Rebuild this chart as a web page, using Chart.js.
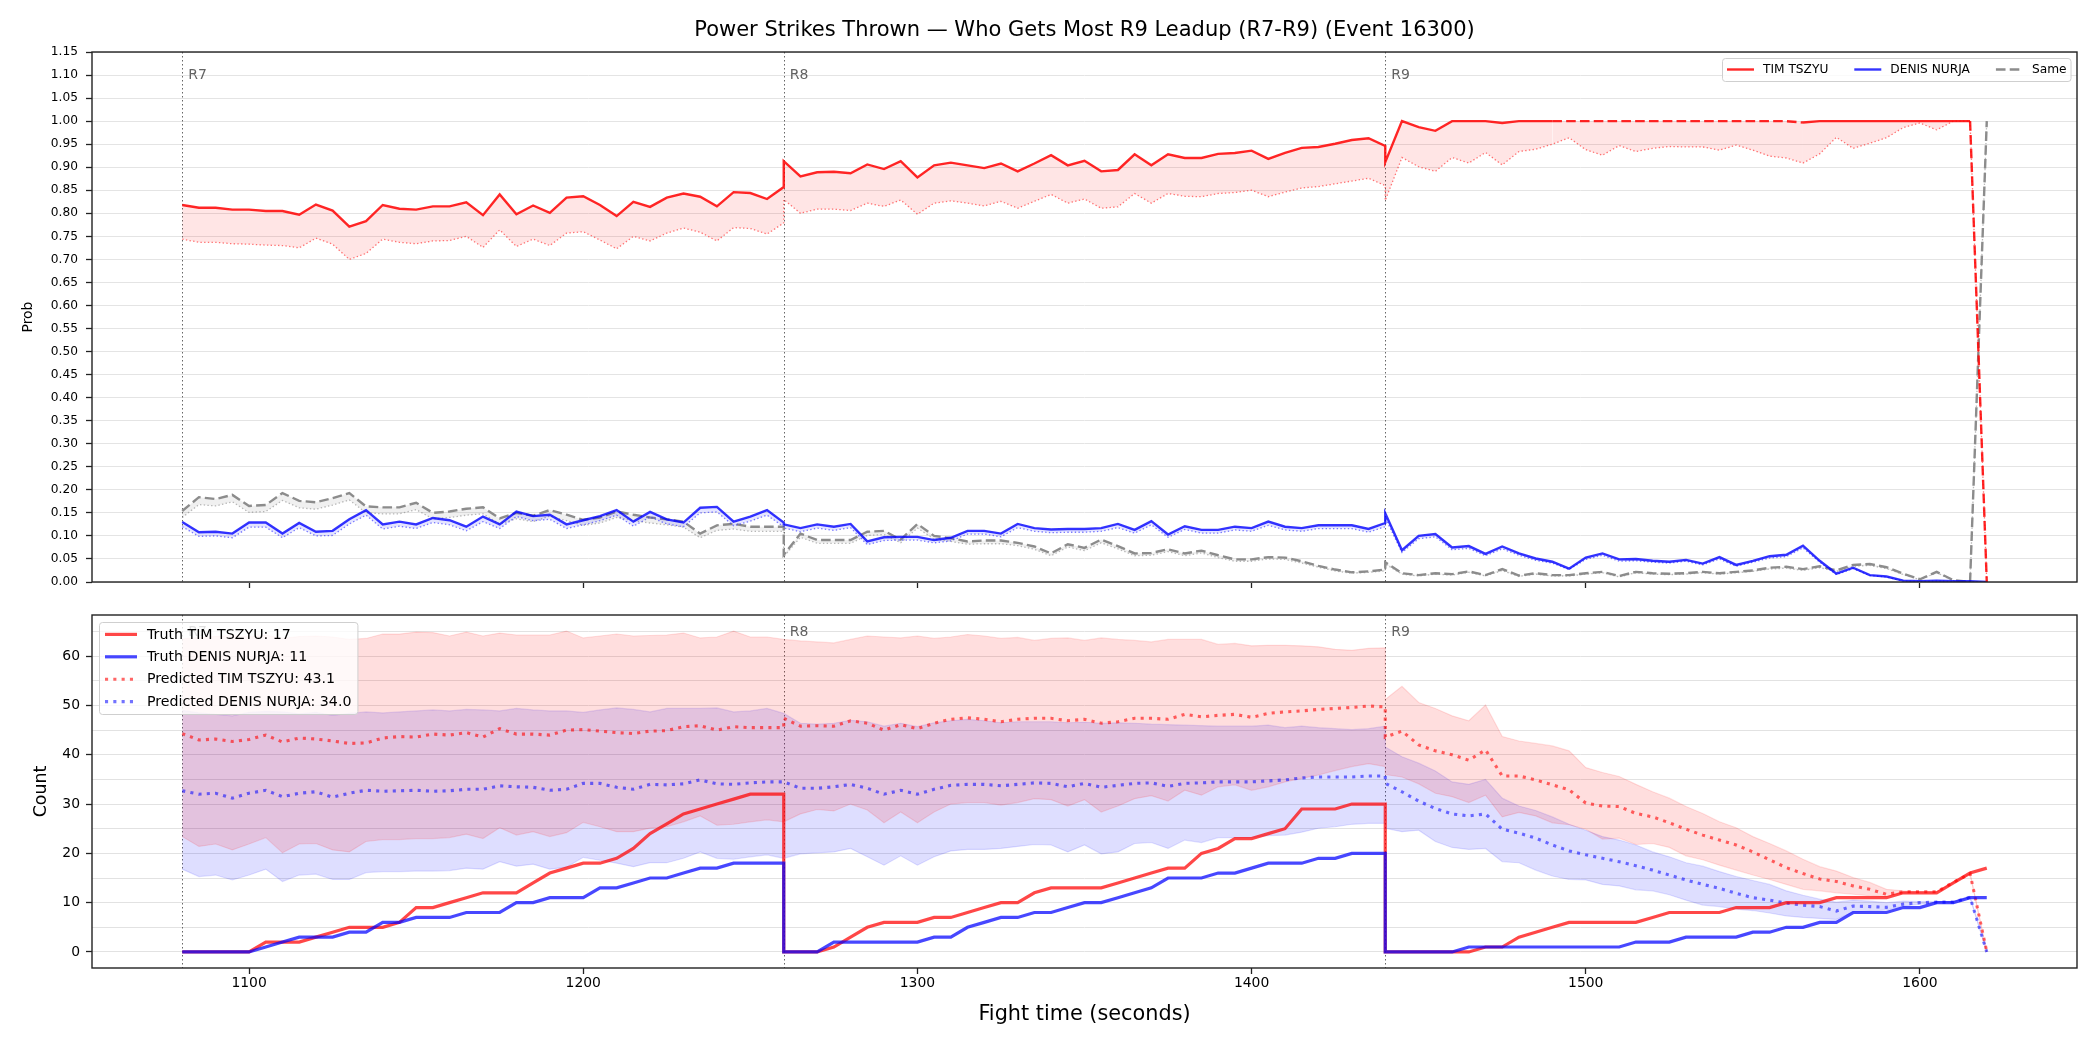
<!DOCTYPE html>
<html>
<head>
<meta charset="utf-8">
<title>Power Strikes Thrown</title>
<script src="https://cdn.jsdelivr.net/npm/chart.js@4.4.1/dist/chart.umd.min.js"></script>
<style>
  html, body { margin: 0; padding: 0; background: #fff; }
  #wrap { position: relative; width: 2100px; height: 1050px; }
  #probChart { position: absolute; left: 0; top: 0; }
  #countChart { position: absolute; left: 0; top: 600px; }
</style>
</head>
<body>
<div id="wrap">
  <canvas id="probChart" width="2100" height="600"></canvas>
  <canvas id="countChart" width="2100" height="450"></canvas>
</div>
<script>
/**************************************************
 DATA (5 s samples, R7 / R8 / R9, boundaries repeated)
**************************************************/
const times = [
  1080,1085,1090,1095,1100,1105,1110,1115,1120,1125,1130,1135,1140,1145,1150,1155,1160,1165,1170,1175,1180,1185,1190,1195,1200,1205,1210,1215,1220,1225,1230,1235,1240,1245,1250,1255,1260,
  1260,1265,1270,1275,1280,1285,1290,1295,1300,1305,1310,1315,1320,1325,1330,1335,1340,1345,1350,1355,1360,1365,1370,1375,1380,1385,1390,1395,1400,1405,1410,1415,1420,1425,1430,1435,1440,
  1440,1445,1450,1455,1460,1465,1470,1475,1480,1485,1490,1495,1500,1505,1510,1515,1520,1525,1530,1535,1540,1545,1550,1555,1560,1565,1570,1575,1580,1585,1590,1595,1600,1605,1610,1615,1620
];

const rounds = [ { t: 1080, label: "R7" }, { t: 1260, label: "R8" }, { t: 1440, label: "R9" } ];
const xTicks = [1100, 1200, 1300, 1400, 1500, 1600];
const probTicks = [0,0.05,0.1,0.15,0.2,0.25,0.3,0.35,0.4,0.45,0.5,0.55,0.6,0.65,0.7,0.75,0.8,0.85,0.9,0.95,1,1.05,1.1,1.15];
const countTicks = [0,5,10,15,20,25,30,35,40,45,50,55,60,65];

// --- top: probabilities ---
const probTim = [
  .818,.812,.812,.808,.808,.805,.805,.797,.819,.806,.771,.783,.818,.810,.808,.815,.815,.824,.796,.841,.798,.817,.801,.834,.837,.818,.794,.825,.814,.834,.843,.836,.815,.846,.844,.831,.857,
  .913,.880,.889,.890,.887,.906,.896,.913,.878,.904,.910,.904,.898,.908,.891,.908,.926,.904,.914,.891,.894,.928,.904,.928,.920,.920,.929,.931,.936,.918,.931,.942,.944,.951,.959,.963,.946,
  .911,1,.987,.979,1,1,1,.996,1,1,1,1,1,1,1,1,1,1,1,1,1,1,1,1,1,.997,1,1,1,1,1,1,1,1,1,1,0
];
const probTimLo = [
  .744,.737,.737,.734,.733,.731,.730,.725,.746,.733,.700,.713,.744,.737,.734,.740,.741,.750,.726,.764,.728,.744,.730,.757,.760,.742,.723,.750,.740,.757,.768,.759,.740,.769,.767,.755,.779,
  .830,.800,.809,.809,.806,.822,.815,.829,.798,.822,.827,.822,.816,.826,.811,.826,.841,.822,.831,.811,.814,.843,.822,.843,.837,.836,.843,.845,.850,.836,.846,.855,.858,.864,.870,.876,.860,
  .828,.921,.901,.891,.921,.909,.932,.905,.934,.939,.950,.964,.938,.926,.947,.934,.941,.945,.944,.944,.937,.948,.937,.924,.920,.909,.929,.965,.941,.952,.964,.986,.996,.981,1,1,0
];
const probDen = [
  .130,.108,.109,.105,.129,.129,.105,.128,.109,.111,.136,.156,.125,.131,.125,.139,.134,.120,.142,.125,.153,.143,.146,.125,.134,.143,.156,.131,.152,.136,.129,.161,.163,.131,.142,.156,.129,
  .125,.117,.125,.120,.126,.088,.097,.098,.098,.091,.096,.111,.111,.105,.126,.117,.114,.115,.115,.117,.126,.113,.132,.103,.121,.113,.113,.120,.117,.131,.120,.117,.123,.123,.123,.115,.128,
  .149,.069,.100,.104,.075,.078,.061,.077,.062,.051,.044,.029,.053,.062,.049,.050,.046,.044,.048,.040,.054,.037,.046,.056,.059,.079,.046,.018,.031,.015,.012,.003,.002,.003,.002,.002,0
];
const probDenLo = [
  .120,.099,.100,.096,.119,.119,.096,.118,.100,.101,.126,.145,.115,.121,.116,.129,.124,.111,.131,.116,.142,.133,.136,.116,.124,.133,.145,.121,.141,.126,.120,.150,.152,.122,.132,.145,.120,
  .117,.109,.117,.112,.118,.081,.090,.091,.091,.085,.089,.104,.104,.098,.118,.110,.107,.108,.108,.110,.118,.106,.124,.097,.114,.106,.106,.113,.110,.123,.113,.110,.116,.116,.116,.108,.120,
  .139,.064,.094,.098,.070,.073,.057,.072,.058,.047,.041,.027,.049,.058,.045,.046,.043,.041,.045,.037,.050,.034,.043,.052,.055,.074,.043,.016,.029,.014,.011,.002,.001,.002,.001,.001,0
];
const probSame = [
  .154,.184,.180,.189,.165,.167,.193,.176,.173,.182,.193,.164,.162,.162,.172,.150,.153,.159,.162,.138,.150,.144,.156,.146,.135,.140,.153,.146,.140,.136,.131,.105,.123,.126,.120,.120,.120,
  .059,.105,.091,.091,.091,.109,.111,.092,.126,.100,.095,.088,.090,.090,.085,.077,.062,.082,.074,.092,.078,.062,.063,.071,.062,.068,.058,.049,.049,.054,.053,.045,.035,.027,.021,.023,.027,
  .043,.019,.015,.019,.017,.023,.015,.028,.014,.019,.015,.015,.019,.022,.013,.022,.019,.018,.019,.022,.019,.022,.025,.031,.033,.028,.034,.025,.037,.039,.032,.018,.006,.022,.004,0,1
];
const probSameLo = [
  .140,.168,.165,.174,.151,.153,.177,.161,.158,.167,.178,.150,.148,.148,.157,.137,.140,.145,.148,.126,.137,.131,.143,.133,.123,.128,.140,.133,.128,.124,.119,.096,.112,.115,.110,.110,.110,
  .055,.097,.084,.084,.084,.101,.103,.085,.117,.093,.088,.082,.083,.083,.079,.071,.057,.076,.068,.085,.072,.057,.058,.066,.057,.063,.053,.045,.045,.050,.049,.041,.032,.024,.019,.021,.024,
  .039,.017,.013,.017,.015,.021,.013,.025,.012,.017,.013,.013,.017,.020,.011,.020,.017,.016,.017,.020,.017,.020,.023,.028,.030,.025,.031,.023,.034,.036,.029,.016,.005,.020,.003,0,1
];

// --- bottom: counts ---
const truthTim = [
  0,0,0,0,0,2,2,2,3,4,5,5,5,6,9,9,10,11,12,12,12,14,16,17,18,18,19,21,24,26,28,29,30,31,32,32,32,
  0,0,0,1,3,5,6,6,6,7,7,8,9,10,10,12,13,13,13,13,14,15,16,17,17,20,21,23,23,24,25,29,29,29,30,30,30,
  0,0,0,0,0,0,1,1,3,4,5,6,6,6,6,6,7,8,8,8,8,9,9,9,10,10,10,11,11,11,11,12,12,12,14,16,17
];
const truthDen = [
  0,0,0,0,0,1,2,3,3,3,4,4,6,6,7,7,7,8,8,8,10,10,11,11,11,13,13,14,15,15,16,17,17,18,18,18,18,
  0,0,0,2,2,2,2,2,2,3,3,5,6,7,7,8,8,9,10,10,11,12,13,15,15,15,16,16,17,18,18,18,19,19,20,20,20,
  0,0,0,0,0,1,1,1,1,1,1,1,1,1,1,2,2,2,3,3,3,3,4,4,5,5,6,6,8,8,8,9,9,10,10,11,11
];
const predTim = [
  44.3,43.0,43.2,42.7,43.1,44.0,42.6,43.4,43.2,42.8,42.3,42.4,43.4,43.7,43.6,44.2,44.0,44.5,43.6,45.3,44.2,44.2,44.0,45.0,45.1,44.8,44.5,44.3,44.8,44.9,45.7,45.9,45.0,45.7,45.5,45.5,45.5,
  47.4,45.8,45.9,45.8,46.9,46.4,45.0,46.1,45.3,46.4,47.2,47.5,47.2,46.7,47.2,47.4,47.4,46.9,47.2,46.4,46.7,47.4,47.4,47.2,48.2,47.7,48.0,48.2,47.6,48.4,48.7,48.9,49.2,49.4,49.6,49.9,49.7,
  43.6,44.8,42.0,40.8,40.0,38.9,41.0,35.7,35.7,34.9,33.9,32.9,30.2,29.6,29.5,28.1,27.4,26.2,24.9,23.7,22.7,21.7,20.3,18.7,17.1,15.9,14.8,14.3,13.4,12.7,11.7,12.2,12.2,12.2,14.1,15.9,0
];
const predDen = [
  32.7,32.0,32.2,31.2,32.2,32.8,31.5,32.2,32.5,31.4,32.2,32.8,32.6,32.7,32.8,32.6,32.7,33.0,33.0,33.7,33.5,33.4,32.8,33.0,34.2,34.2,33.4,33.0,34.0,33.9,34.1,34.9,34.1,34.0,34.3,34.5,34.5,
  34.5,33.2,33.2,33.5,34.0,33.2,32.0,32.8,32.0,33.0,33.8,34.0,34.0,33.7,34.0,34.3,34.2,33.5,34.2,33.4,33.8,34.2,34.3,33.6,34.2,34.3,34.5,34.5,34.5,34.7,34.9,35.3,35.5,35.5,35.5,35.7,35.7,
  34.2,32.5,30.6,29.1,28.0,27.6,28.0,24.9,24.1,23.1,21.7,20.5,19.7,19.0,18.3,17.5,16.6,15.6,14.6,13.7,12.9,11.9,11.0,10.5,9.9,9.5,9.2,8.3,9.3,9.2,9.05,9.7,10.0,10.1,10.1,11.1,0
];
const predTimHi = [
  63.5,63.8,64.0,64.2,63.9,64.3,63.6,64.0,64.1,63.9,63.4,63.6,64.5,64.5,64.9,64.8,64.1,64.9,64.1,64.7,64.3,64.3,64.3,65.1,63.7,64.1,64.5,64.1,64.2,64.3,64.7,63.7,63.9,65.1,63.9,63.9,63.4,
  63.4,63.1,62.9,62.7,63.4,64.1,63.9,63.7,64.1,63.6,63.9,64.4,64.1,63.6,63.8,63.2,63.6,63.7,63.2,63.7,63.4,63.2,62.9,63.4,63.4,63.4,62.4,62.6,62.1,62.2,62.2,62.1,61.9,61.4,61.2,61.6,61.7,
  51.2,53.9,50.6,49.4,47.9,46.9,50.1,43.7,42.8,42.3,41.8,40.8,37.4,36.4,35.6,34.0,32.5,31.2,29.5,28.1,26.4,25.2,23.4,22.0,20.5,18.8,17.3,16.4,15.1,14.1,12.7,12.4,12.2,12.2,14.1,15.9,0
];
const predTimLo = [
  23.4,21.4,21.9,20.7,21.9,23.2,20.1,21.9,22.0,20.7,20.3,22.4,22.8,22.8,23.0,23.0,23.2,23.9,23.0,25.2,23.7,24.4,23.4,24.2,26.3,25.4,24.4,24.4,25.1,25.4,26.4,27.6,25.7,25.9,26.4,26.8,26.4,
  26.4,28.0,28.9,28.6,30.0,28.8,26.2,28.4,26.2,28.4,30.0,30.3,30.3,29.8,30.3,31.1,30.9,29.6,30.9,28.4,29.6,31.1,31.7,30.6,32.8,31.8,33.5,33.9,32.8,33.5,34.5,35.2,35.9,36.8,37.6,38.2,37.6,
  36.0,35.5,34.1,32.2,31.5,30.3,31.8,27.4,28.3,27.6,26.2,25.8,24.9,22.9,23.1,21.8,22.0,21.2,19.5,18.7,17.6,16.6,15.6,14.7,13.7,12.7,12.4,12.0,11.7,11.4,11.2,12.0,12.2,12.2,14.1,15.9,0
];
const predDenHi = [
  49.0,48.5,48.2,47.9,48.6,48.8,48.7,48.3,48.6,48.0,48.4,48.7,48.5,48.7,48.9,49.1,48.9,49.2,49.1,48.9,49.4,49.1,48.9,48.9,48.6,49.1,49.5,49.2,48.7,49.4,49.4,49.4,49.5,48.7,48.9,49.4,48.4,
  48.4,46.4,46.2,46.4,47.0,46.7,45.8,46.4,45.7,46.5,46.9,47.2,46.9,46.5,46.7,46.7,46.7,46.5,46.6,46.4,46.5,46.4,46.2,46.1,46.0,45.9,45.8,45.8,45.8,46.0,45.5,45.8,45.5,45.3,45.1,45.3,45.8,
  41.6,39.6,38.3,36.7,34.5,34.0,35.0,31.2,29.6,28.7,27.4,25.9,24.7,23.4,22.7,21.7,20.3,19.3,18.1,17.4,16.3,15.3,14.5,13.7,12.4,11.5,10.7,10.1,10.5,10.3,10.0,10.3,10.2,10.2,10.2,11.1,0
];
const predDenLo = [
  16.8,15.3,15.6,14.6,15.6,16.8,14.3,15.6,15.8,14.7,14.7,16.1,16.3,16.3,16.4,16.4,16.5,17.0,16.8,18.3,17.4,17.8,16.8,17.2,19.2,18.6,18.0,17.3,18.1,18.1,19.0,20.3,19.0,18.8,19.3,19.7,19.0,
  19.0,19.9,20.1,20.3,21.0,19.3,17.6,19.5,17.6,19.3,20.5,20.8,20.8,21.0,21.4,21.8,21.7,20.3,21.7,19.9,20.3,22.0,22.2,21.0,22.7,22.2,23.2,23.2,23.2,23.6,23.7,24.3,25.1,25.4,25.9,26.1,26.1,
  25.1,24.4,24.7,22.4,21.2,20.8,21.0,18.3,18.1,16.6,15.4,14.7,14.6,13.7,13.4,12.6,12.4,11.6,10.5,9.5,9.2,8.7,8.4,7.9,7.3,7.0,6.8,6.6,8.1,8.3,8.5,9.3,9.7,10.1,10.1,11.1,0
];

/**************************************************
 HELPERS + PLUGINS
**************************************************/
Chart.defaults.font.family = "'DejaVu Sans', 'Liberation Sans', sans-serif";
Chart.defaults.color = "#000";

const FONT = "'DejaVu Sans', sans-serif";
const pts = arr => times.map((t, i) => ({ x: t, y: arr[i] }));
const DOT_THIN = [1.4, 2.3];
const DASH = [9.6, 4.2];
const DOT_THICK = [3.1, 5.2];

// dotted round markers, R labels, frame, legend box, figure title
const decor = {
  id: "decor",
  beforeDatasetsDraw(chart, args, o) {
    const { ctx, chartArea: a, scales: { x } } = chart;
    ctx.save();
    ctx.strokeStyle = "#666";
    ctx.lineWidth = 1;
    ctx.setLineDash([1.5, 2.5]);
    rounds.forEach(r => {
      const px = Math.round(x.getPixelForValue(r.t)) + 0.5;
      ctx.beginPath(); ctx.moveTo(px, a.top); ctx.lineTo(px, a.bottom); ctx.stroke();
    });
    ctx.restore();
  },
  afterDatasetsDraw(chart, args, o) {
    const { ctx, chartArea: a, scales: { x, y } } = chart;
    ctx.save();
    ctx.font = "14px " + FONT;
    ctx.fillStyle = "rgba(70,70,70,0.85)";
    ctx.textBaseline = "middle";
    rounds.forEach(r => ctx.fillText(r.label, x.getPixelForValue(r.t) + 6, y.getPixelForValue(o.labelY)));
    ctx.strokeStyle = "#222";
    ctx.lineWidth = 1.4;
    ctx.strokeRect(a.left, a.top, a.right - a.left, a.bottom - a.top);
    ctx.restore();
  },
  afterDraw(chart, args, o) {
    const { ctx, chartArea: a } = chart;
    ctx.save();
    if (o.title) {
      ctx.font = "21px " + FONT;
      ctx.textAlign = "center";
      ctx.textBaseline = "middle";
      ctx.fillStyle = "#000";
      ctx.fillText(o.title, (a.left + a.right) / 2, 31);
    }
    const L = o.legend;
    if (L) {
      ctx.font = L.size + "px " + FONT;
      const ds = chart.data.datasets;
      const w = L.items.map(i => ctx.measureText(ds[i].label).width);
      let bw, bh;
      if (L.horizontal) {
        bw = 2 * L.padX + w.reduce((s, v) => s + v, 0) + L.items.length * (L.handle + L.hpad) + (L.items.length - 1) * L.colSpace;
        bh = L.rowH;
      } else {
        bw = 2 * L.padX + L.handle + L.hpad + Math.max(...w);
        bh = L.items.length * L.rowH + 2 * L.padY;
      }
      const left = L.right ? a.right - L.inset - bw : a.left + L.inset;
      const top = a.top + L.inset;
      ctx.fillStyle = "rgba(255,255,255,0.8)";
      ctx.strokeStyle = "#cfcfcf";
      ctx.lineWidth = 1;
      ctx.beginPath();
      ctx.roundRect(Math.round(left) + 0.5, Math.round(top) + 0.5, bw, bh, 3);
      ctx.fill(); ctx.stroke();
      let cx = left + L.padX;
      L.items.forEach((di, k) => {
        const d = ds[di];
        const cy = L.horizontal ? top + bh / 2 : top + L.padY + L.rowH * (k + 0.5);
        const hx = L.horizontal ? cx : left + L.padX;
        ctx.strokeStyle = d.borderColor;
        ctx.lineWidth = d.borderWidth;
        ctx.setLineDash(d.borderDash || []);
        ctx.beginPath(); ctx.moveTo(hx, cy); ctx.lineTo(hx + L.handle, cy); ctx.stroke();
        ctx.setLineDash([]);
        ctx.fillStyle = "#000";
        ctx.textBaseline = "middle";
        ctx.textAlign = "left";
        ctx.fillText(d.label, hx + L.handle + L.hpad, cy + 0.5);
        if (L.horizontal) cx += L.handle + L.hpad + w[k] + L.colSpace;
      });
    }
    ctx.restore();
  }
};

const xScale = (showLabels, height) => ({
  type: "linear",
  min: 1053,
  max: 1647,
  afterBuildTicks: s => { s.ticks = xTicks.map(v => ({ value: v })); },
  afterFit: s => { s.height = height; },
  grid: { drawOnChartArea: false, drawTicks: true, tickLength: 6, tickColor: "#222", tickWidth: 1.3 },
  border: { display: false },
  ticks: { display: showLabels, font: { size: 13.9 }, padding: 1, maxRotation: 0, callback: v => String(v) }
});

/**************************************************
 TOP: PROBABILITY CHART
**************************************************/
const redDashSpans = [[1490, 1565], [1615, 1620]];

new Chart(document.getElementById("probChart"), {
  type: "line",
  data: {
    datasets: [
      {
        label: "TIM TSZYU", data: pts(probTim),
        borderColor: "rgba(255,0,0,0.85)", borderWidth: 2.4,
        backgroundColor: "rgba(255,0,0,0.1)", fill: "+1",
        segment: {
          borderDash: c => redDashSpans.some(([a, b]) =>
            c.p0.parsed.x >= a && c.p1.parsed.x <= b && c.p1.parsed.x > c.p0.parsed.x) ? DASH : undefined
        }
      },
      { label: "TIM TSZYU low", data: pts(probTimLo), borderColor: "rgba(255,30,30,0.6)", borderWidth: 1.3, borderDash: DOT_THIN, fill: false },
      { label: "DENIS NURJA", data: pts(probDen), borderColor: "rgba(0,0,255,0.8)", borderWidth: 2.4, backgroundColor: "rgba(0,0,255,0.1)", fill: "+1" },
      { label: "DENIS NURJA low", data: pts(probDenLo), borderColor: "rgba(40,40,255,0.6)", borderWidth: 1.3, borderDash: DOT_THIN, fill: false },
      { label: "Same", data: pts(probSame), borderColor: "#8c8c8c", borderWidth: 2.4, borderDash: DASH, backgroundColor: "rgba(128,128,128,0.12)", fill: "+1" },
      { label: "Same low", data: pts(probSameLo), borderColor: "rgba(128,128,128,0.55)", borderWidth: 1.3, borderDash: DOT_THIN, fill: false }
    ]
  },
  options: {
    responsive: false,
    animation: false,
    devicePixelRatio: 1,
    events: [],
    spanGaps: false,
    elements: { point: { radius: 0 }, line: { tension: 0 } },
    layout: { padding: { left: 0, right: 23, top: 52, bottom: 0 } },
    scales: {
      x: xScale(false, 18),
      y: {
        min: 0, max: 1.15,
        afterBuildTicks: s => { s.ticks = probTicks.map(v => ({ value: v })); },
        afterFit: s => { s.width = 92; },
        grid: { color: "#e4e4e4", lineWidth: 1, tickLength: 6, tickColor: "#222", tickWidth: 1.3 },
        border: { display: false },
        ticks: { font: { size: 12.2 }, padding: 8, callback: v => Number(v).toFixed(2) },
        title: { display: true, text: "Prob", font: { size: 13.9 }, padding: { top: 20, bottom: 0 } }
      }
    },
    plugins: {
      legend: { display: false },
      tooltip: { enabled: false },
      decor: {
        labelY: 1.10,
        title: "Power Strikes Thrown \u2014 Who Gets Most R9 Leadup (R7-R9) (Event 16300)",
        legend: { horizontal: true, right: true, items: [0, 2, 4], size: 12.2, handle: 27, hpad: 9, colSpace: 26, padX: 4.5, rowH: 23, inset: 6 }
      }
    }
  },
  plugins: [decor]
});

/**************************************************
 BOTTOM: COUNT CHART
**************************************************/
new Chart(document.getElementById("countChart"), {
  type: "line",
  data: {
    datasets: [
      { label: "Truth TIM TSZYU: 17", data: pts(truthTim), borderColor: "rgba(255,0,0,0.72)", borderWidth: 3.2, fill: false, order: 2 },
      { label: "Truth DENIS NURJA: 11", data: pts(truthDen), borderColor: "rgba(0,0,255,0.72)", borderWidth: 3.2, fill: false, order: 1 },
      { label: "Predicted TIM TSZYU: 43.1", data: pts(predTim), borderColor: "rgba(255,0,0,0.6)", borderWidth: 3.1, borderDash: DOT_THICK, fill: false, order: 5 },
      { label: "Predicted DENIS NURJA: 34.0", data: pts(predDen), borderColor: "rgba(0,0,255,0.55)", borderWidth: 3.1, borderDash: DOT_THICK, fill: false, order: 5 },
      { label: "TIM band hi", data: pts(predTimHi), borderColor: "rgba(255,0,0,0.12)", borderWidth: 1.2, backgroundColor: "rgba(255,0,0,0.13)", fill: "+1", order: 10 },
      { label: "TIM band lo", data: pts(predTimLo), borderColor: "rgba(255,0,0,0.12)", borderWidth: 1.2, fill: false, order: 10 },
      { label: "DENIS band hi", data: pts(predDenHi), borderColor: "rgba(0,0,255,0.12)", borderWidth: 1.2, backgroundColor: "rgba(0,0,255,0.13)", fill: "+1", order: 10 },
      { label: "DENIS band lo", data: pts(predDenLo), borderColor: "rgba(0,0,255,0.12)", borderWidth: 1.2, fill: false, order: 10 }
    ]
  },
  options: {
    responsive: false,
    animation: false,
    devicePixelRatio: 1,
    events: [],
    elements: { point: { radius: 0 }, line: { tension: 0 } },
    layout: { padding: { left: 0, right: 23, top: 15, bottom: 0 } },
    scales: {
      x: Object.assign(xScale(true, 82), {
        title: { display: true, text: "Fight time (seconds)", font: { size: 20.8 }, padding: { top: 0, bottom: 22.5 } }
      }),
      y: {
        min: -3.26, max: 68.36,
        afterBuildTicks: s => { s.ticks = countTicks.map(v => ({ value: v })); },
        afterFit: s => { s.width = 92; },
        grid: {
          color: "#e2e2e2", lineWidth: 1, tickLength: 6, tickWidth: 1.3,
          tickColor: c => (c.tick && c.tick.value % 10 === 0) ? "#222" : "rgba(0,0,0,0)"
        },
        border: { display: false },
        ticks: { font: { size: 13.9 }, padding: 6, callback: v => (v % 10 === 0 ? String(v) : "") },
        title: { display: true, text: "Count", font: { size: 17.4 }, padding: { top: 31, bottom: 0 } }
      }
    },
    plugins: {
      legend: { display: false },
      tooltip: { enabled: false },
      decor: {
        labelY: 64.9,
        legend: { horizontal: false, right: false, items: [0, 1, 2, 3], size: 14.2, handle: 32, hpad: 10, padX: 6, padY: 1.2, rowH: 22.4, inset: 7 }
      }
    }
  },
  plugins: [decor]
});
</script>
</body>
</html>
